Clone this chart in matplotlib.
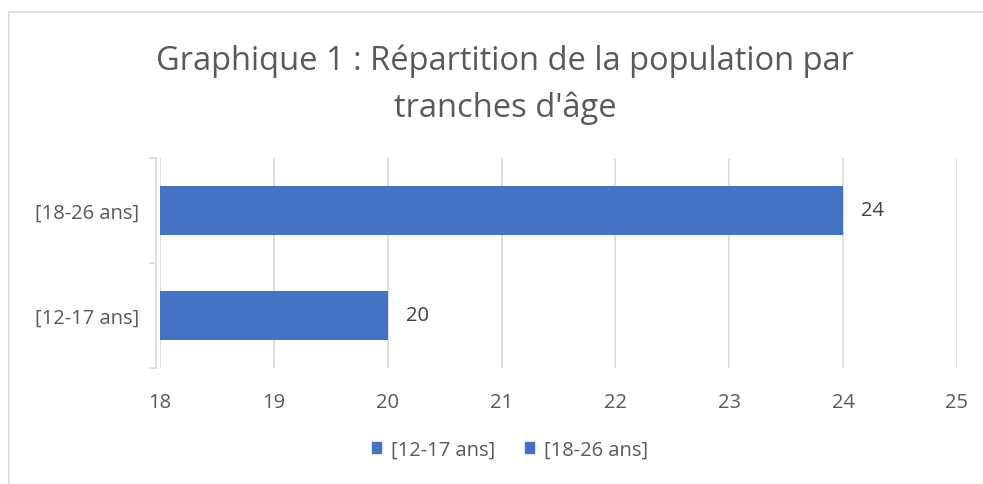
import matplotlib.pyplot as plt
from matplotlib.patches import Rectangle

# data
categories = ['[12-17 ans]', '[18-26 ans]']
values = [20, 24]
xticks = [18, 19, 20, 21, 22, 23, 24, 25]
title = "Graphique 1 : Répartition de la population par\ntranches d'âge"

bar_color = '#4472C4'
grey = '#595959'

plt.rcParams['font.family'] = ['Open Sans', 'DejaVu Sans']

fig = plt.figure(figsize=(9.83, 4.85), dpi=100)

# chart frame (right and bottom edges fall outside the picture)
fig.patches.append(Rectangle((9 / 983, -0.1), 1.2, 1 - 13 / 485 + 0.1,
                             transform=fig.transFigure, fill=False,
                             edgecolor='#d9d9d9', linewidth=1.2))

ax = fig.add_axes([160 / 983, 1 - 369 / 485, 797 / 983, 210 / 485])

ypos = list(range(len(categories)))
ax.barh(ypos, [v - xticks[0] for v in values], left=xticks[0], height=0.46,
        color=bar_color, zorder=3)

for y, v in zip(ypos, values):
    ax.text(v + 0.16, y, str(v), va='center', ha='left', fontsize=14.5, color='#404040')

ax.set_xlim(xticks[0], xticks[-1])
ax.set_ylim(-0.5, len(categories) - 0.5)
ax.set_xticks(xticks)
ax.set_yticks(ypos)
ax.set_yticklabels(categories)
ax.xaxis.grid(True, color='#d9d9d9', linewidth=1.2, zorder=0)
ax.tick_params(axis='x', length=0, pad=17, labelsize=14.5, labelcolor=grey)
ax.tick_params(axis='y', length=0, pad=12, labelsize=14.5, labelcolor=grey)

# category axis ticks at boundaries
ax.set_yticks([-0.5, 0.5, 1.5], minor=True)
ax.tick_params(axis='y', which='minor', length=5, color='#d9d9d9', width=1.2)

for s in ['top', 'right', 'bottom']:
    ax.spines[s].set_visible(False)
ax.spines['left'].set_color('#d9d9d9')
ax.spines['left'].set_linewidth(1.2)
ax.spines['left'].set_position(('outward', 3))

fig.text(505 / 983, 1 - 85 / 485, title, ha='center', va='center', fontsize=23.5,
         color=grey, linespacing=1.52)

handles = [Rectangle((0, 0), 1, 1, color=bar_color) for _ in categories]
fig.legend(handles, categories, loc='center', bbox_to_anchor=(510 / 983, 1 - 451 / 485),
           ncol=2, frameon=False, fontsize=14.5, labelcolor=grey, handlelength=0.45,
           handleheight=0.45, handletextpad=0.5, columnspacing=1.5)

fig.savefig('out.png', dpi=100)
